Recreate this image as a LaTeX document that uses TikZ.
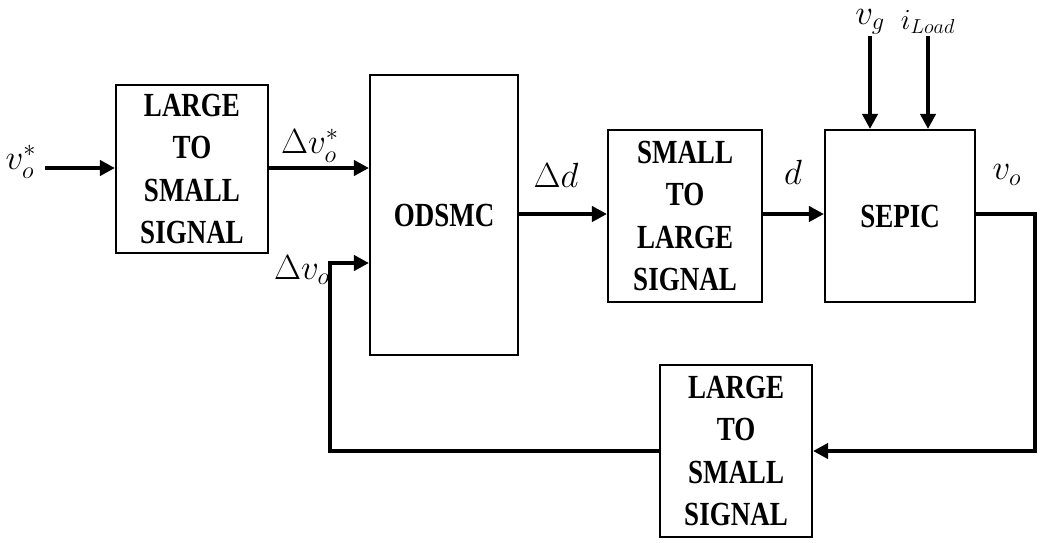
\documentclass[tikz,border=0pt]{standalone}
\usepackage{fontspec}
\setmainfont{Liberation Serif}
\newfontfamily\boxfont[FakeStretch=0.8]{Liberation Serif}
\usetikzlibrary{arrows.meta}
\tikzset{
  block/.style={draw, line width=1.4pt, align=center, inner sep=0pt,
    font=\boxfont\fontsize{24}{30}\selectfont\bfseries},
  signal/.style={line width=2.8pt, line join=miter, -{Triangle[length=0.38cm, width=0.38cm]}},
  lbl/.style={inner sep=1pt, font=\fontsize{24}{28}\selectfont}
}
\begin{document}
\begin{tikzpicture}[x=0.025cm, y=-0.025cm]
    % 画布范围：1043 x 542
    \useasboundingbox (0,0) rectangle (1043,542);
    % 方框
    \node[block, minimum width=3.8cm, minimum height=4.2cm] (ltsA) at (192,169) {LARGE\\TO\\SMALL\\SIGNAL};
    \node[block, minimum width=3.7cm, minimum height=6.975cm] (odsmc) at (444,215) {ODSMC};
    \node[block, minimum width=3.85cm, minimum height=4.3cm] (stl) at (685,216) {SMALL\\TO\\LARGE\\SIGNAL};
    \node[block, minimum width=3.75cm, minimum height=4.3cm] (sepic) at (900,216) {SEPIC};
    \node[block, minimum width=3.8cm, minimum height=4.3cm] (ltsB) at (736,451) {LARGE\\TO\\SMALL\\SIGNAL};
    % 辅助点
    \coordinate (vin) at (45,168);
    \coordinate (vgin) at (870,36);
    \coordinate (iin) at (928,36);
    \coordinate (vout) at (1035,214);
    \coordinate (fbL) at (330,451);
    \coordinate (fbU) at (330,263);
    % 前向通路
    \draw[signal] (vin) -- (ltsA.west |- vin);
    \draw[signal] (ltsA.east |- vin) -- (odsmc.west |- vin);
    \draw[signal] (odsmc.east |- 0,214) -- (stl.west |- 0,214);
    \draw[signal] (stl.east |- 0,214) -- (sepic.west |- 0,214);
    \foreach \p in {vgin, iin} \draw[signal] (\p) -- (sepic.north -| \p);
    % 反馈通路
    \draw[signal] (sepic.east |- vout) -- (vout) -- (vout |- ltsB) -- (ltsB.east);
    \draw[signal] (ltsB.west) -- (fbL) -- (fbU) -- (odsmc.west |- fbU);
    % 标签
    \node[lbl] (lvin) at (21,162) {$v_o^*$};
    \node[lbl] (ldvr) at (310,146) {$\Delta v_o^*$};
    \node[lbl] (ldv) at (302,270) {$\Delta v_o$};
    \node[lbl] (ldd) at (556,175) {$\Delta d$};
    \node[lbl] (ld) at (793,172) {$d$};
    \node[lbl] (lvg) at (870,22) {$v_g$};
    \node[lbl, font=\fontsize{21}{26}\selectfont] (lil) at (928,22) {$i_{Load}$};
    \node[lbl] (lvo) at (1007,175) {$v_o$};
\end{tikzpicture}
\end{document}
